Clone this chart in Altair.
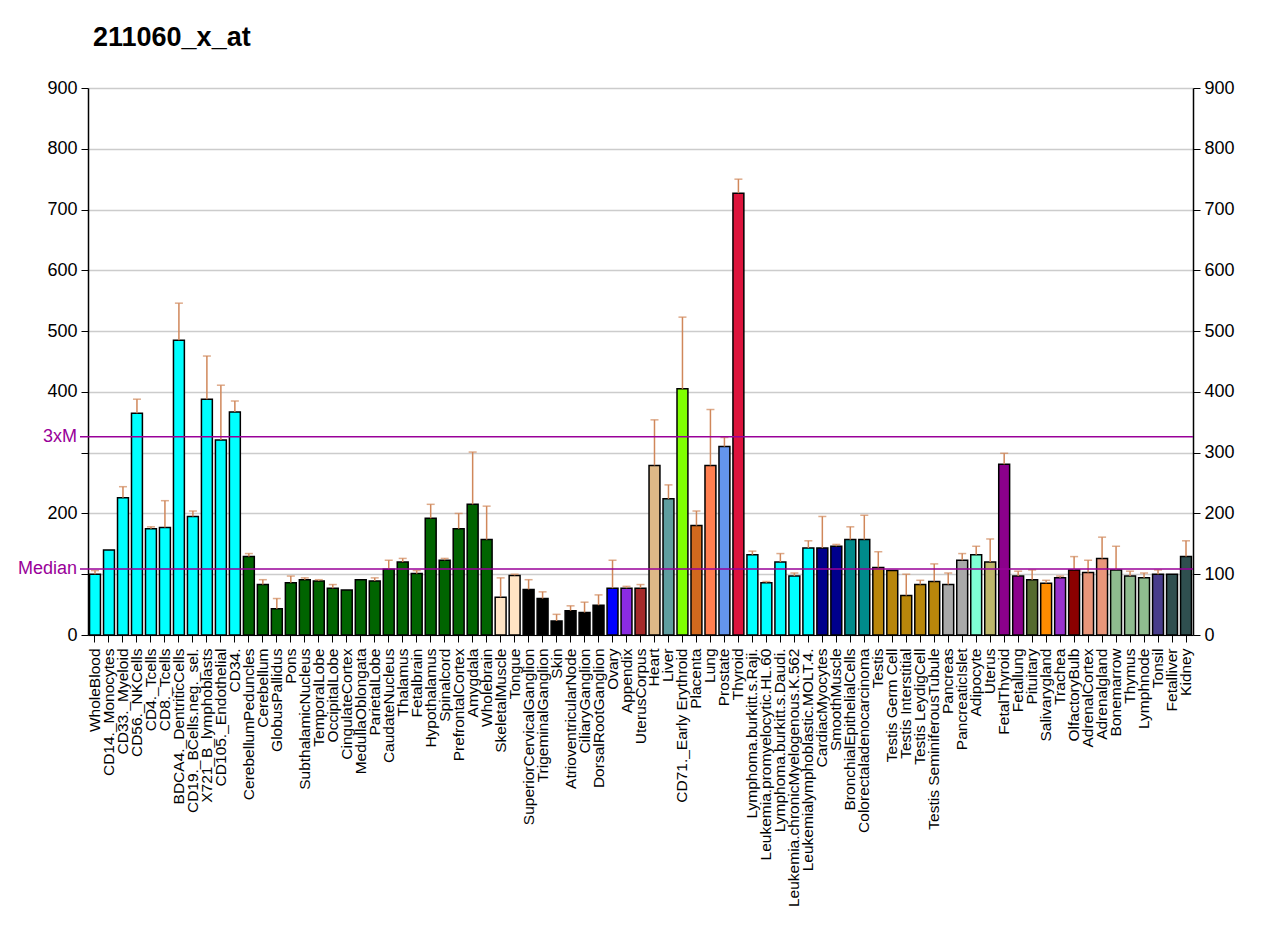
import altair as alt
import pandas as pd

tissues = [
    "WholeBlood", "CD14._Monocytes", "CD33._Myeloid", "CD56._NKCells", "CD4._Tcells",
    "CD8._Tcells", "BDCA4._DentriticCells", "CD19._BCells.neg._sel.", "X721_B_lymphoblasts",
    "CD105._Endothelial", "CD34.", "CerebellumPeduncles", "Cerebellum", "GlobusPallidus",
    "Pons", "SubthalamicNucleus", "TemporalLobe", "OccipitalLobe", "CingulateCortex",
    "MedullaOblongata", "ParietalLobe", "CaudateNucleus", "Thalamus", "Fetalbrain",
    "Hypothalamus", "Spinalcord", "PrefrontalCortex", "Amygdala", "Wholebrain",
    "SkeletalMuscle", "Tongue", "SuperiorCervicalGanglion", "TrigeminalGanglion", "Skin",
    "AtrioventricularNode", "CiliaryGanglion", "DorsalRootGanglion", "Ovary", "Appendix",
    "UterusCorpus", "Heart", "Liver", "CD71._Early Erythroid", "Placenta", "Lung",
    "Prostate", "Thyroid", "Lymphoma.burkitt.s.Raji.", "Leukemia.promyelocytic.HL.60",
    "Lymphoma.burkitt.s.Daudi.", "Leukemia.chronicMyelogenous.K.562",
    "Leukemialymphoblastic.MOLT.4.", "CardiacMyocytes", "SmoothMuscle",
    "BronchialEpithelialCells", "Colorectaladenocarcinoma", "Testis", "Testis Germ Cell",
    "Testis Interstitial", "Testis LeydigCell", "Testis SeminiferousTubule", "Pancreas",
    "PancreaticIslet", "Adipocyte", "Uterus", "FetalThyroid", "Fetallung", "Pituitary",
    "Salivarygland", "Trachea", "OlfactoryBulb", "AdrenalCortex", "Adrenalgland",
    "Bonemarrow", "Thymus", "Lymphnode", "Tonsil", "Fetalliver", "Kidney",
]

values = [
    100, 140, 226, 365, 175, 177, 485, 195, 388, 321, 367,
    129, 83, 43, 86, 91, 89, 77, 74, 91, 89, 108, 120, 101, 192, 123, 175, 215, 157,
    62, 98, 75, 60, 23, 40, 37, 49, 77, 77, 77,
    279, 224, 405, 180, 279, 310, 727,
    132, 86, 120, 97, 143, 143, 146, 157, 157,
    111, 106, 65, 83, 88, 83, 123, 132, 120, 281, 97, 91, 85, 94,
    107, 103, 126, 107, 97, 94, 100, 100, 129,
]

err_tops = [
    106, 140, 244, 388, 178, 221, 546, 204, 459, 411, 385,
    134, 91, 60, 97, 94, 91, 83, 74, 91, 94, 123, 126, 106, 215, 126, 200, 301, 212,
    94, 100, 91, 71, 34, 48, 54, 66, 123, 80, 83,
    354, 247, 523, 204, 371, 325, 750,
    138, 88, 134, 102, 155, 195, 149, 178, 197,
    137, 106, 100, 90, 117, 102, 134, 146, 158, 299, 105, 107, 90, 97,
    129, 123, 161, 146, 105, 102, 107, 100, 155,
]

colors = (
    ["#00FFFF"] * 11
    + ["#006400"] * 18
    + ["#FFE4C4"] * 2
    + ["#000000"] * 6
    + ["#0000FF", "#8A2BE2", "#A52A2A", "#DEB887", "#5F9EA0", "#7FFF00",
       "#D2691E", "#FF7F50", "#6495ED", "#DC143C"]
    + ["#00FFFF"] * 5
    + ["#00008B"] * 2
    + ["#008B8B"] * 2
    + ["#B8860B"] * 5
    + ["#A9A9A9"] * 2
    + ["#7FFFD4", "#BDB76B", "#8B008B", "#8B008B", "#556B2F", "#FF8C00",
       "#9932CC", "#8B0000", "#E9967A", "#E9967A"]
    + ["#8FBC8F"] * 3
    + ["#483D8B", "#2F4F4F", "#2F4F4F"]
)

ref_labels = ["Median", "3xM"]
ref_values = [108.7, 326]

df = pd.DataFrame({"tissue": tissues, "value": values, "err": err_tops, "color": colors})
ref_df = pd.DataFrame({"label": ref_labels, "value": ref_values})

W, H = 1105, 547
PURPLE = "#990099"
ERR = "#D0875A"

yscale = alt.Scale(domain=[0, 900], nice=False, zero=True)
xscale = alt.Scale(paddingInner=0.22, paddingOuter=0.11)

xaxis = alt.Axis(
    title=None, labelAngle=-90, labelFontSize=15.5, labelLimit=400, labelOverlap=False,
    labelPadding=6, tickSize=7, tickColor="black", domainColor="black", labelColor="black",
    grid=False,
)

left_axis = alt.Axis(
    title=None, orient="left", values=list(range(0, 1000, 100)), grid=True,
    gridColor="#CCCCCC", gridWidth=1.5, tickSize=7, tickColor="black", domainColor="black",
    domainWidth=1.5, labelFontSize=18, labelPadding=4, labelColor="black",
    labelExpr="(datum.value == 100 || datum.value == 300) ? '' : datum.label",
)
right_axis = alt.Axis(
    title=None, orient="right", values=list(range(0, 1000, 100)), grid=False,
    tickSize=7, tickColor="black", domainColor="black", domainWidth=1.5,
    labelFontSize=18, labelPadding=4, labelColor="black",
)

base = alt.Chart(df)

bars = base.mark_bar(stroke="black", strokeWidth=1.5).encode(
    x=alt.X("tissue:N", sort=tissues, scale=xscale, axis=xaxis),
    y=alt.Y("value:Q", scale=yscale, axis=left_axis),
    fill=alt.Fill("color:N", scale=None),
)

err_rules = base.mark_rule(color=ERR, strokeWidth=1.5).encode(
    x=alt.X("tissue:N", sort=tissues, scale=xscale),
    y=alt.Y("value:Q", scale=yscale, axis=right_axis),
    y2="err:Q",
)

caps = base.transform_filter("datum.err > datum.value").mark_tick(
    color=ERR, thickness=1.5, size=8, orient="horizontal"
).encode(
    x=alt.X("tissue:N", sort=tissues, scale=xscale),
    y=alt.Y("err:Q", scale=yscale, axis=None),
)

ref_rules = alt.Chart(ref_df).mark_rule(color=PURPLE, strokeWidth=1.5).encode(
    y=alt.Y("value:Q", scale=yscale, axis=None),
    x=alt.value(-8),
    x2=alt.value(W),
)

ref_text = alt.Chart(ref_df).mark_text(
    color=PURPLE, fontSize=18, align="right", baseline="middle"
).encode(
    y=alt.Y("value:Q", scale=yscale, axis=None),
    x=alt.value(-11),
    text="label:N",
)

chart = (
    alt.layer(bars, err_rules, caps, ref_rules, ref_text)
    .resolve_axis(y="independent")
    .properties(
        width=W,
        height=H,
        title=alt.TitleParams(
            "211060_x_at", anchor="start", frame="group", fontSize=27, fontWeight="bold",
            color="black", dx=5, offset=27,
        ),
        autosize=alt.AutoSizeParams(type="none"),
        padding={"left": 88, "top": 88, "right": 87, "bottom": 292},
    )
    .configure(font="Liberation Sans")
    .configure_view(stroke=None)
)

chart.save("out.html", embed_options={"renderer": "svg", "actions": False})
